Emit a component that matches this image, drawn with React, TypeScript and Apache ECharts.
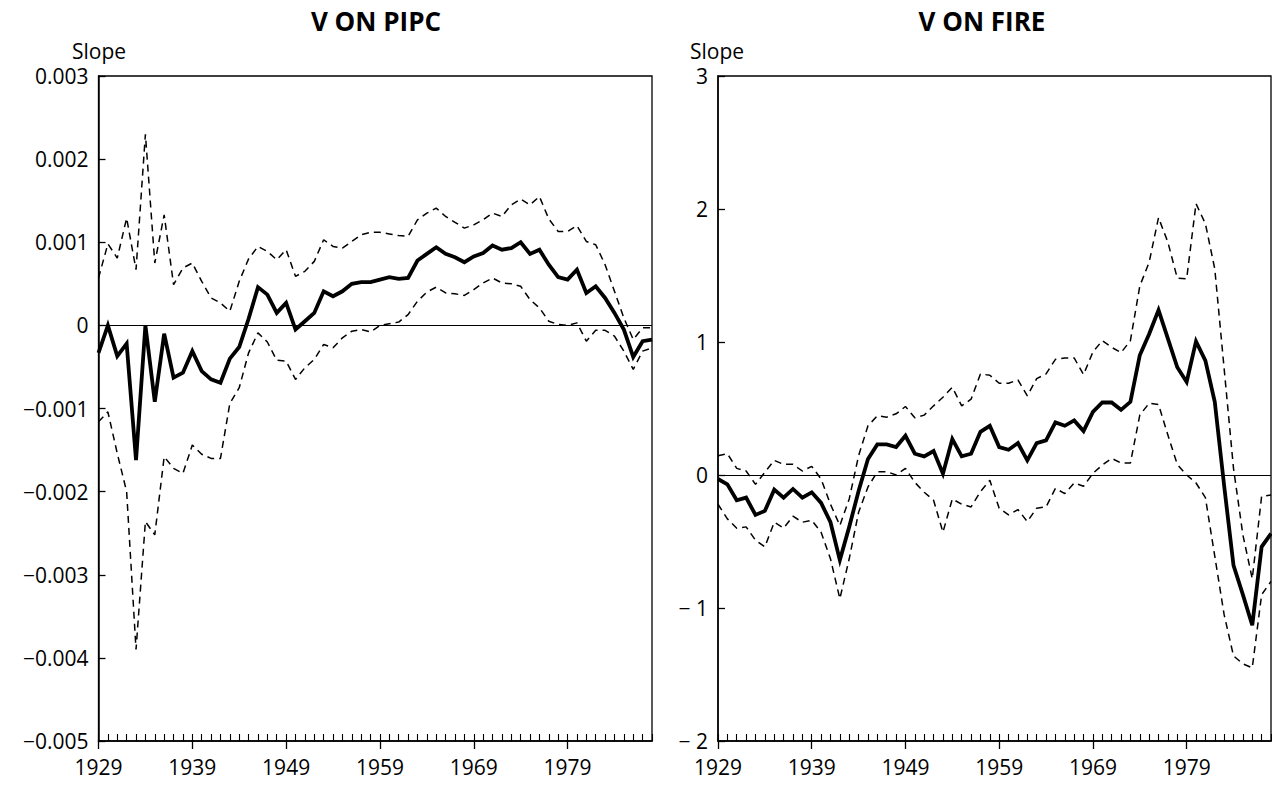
import React, { useEffect, useRef } from "react";
import * as echarts from "echarts";

const years: string[] = [];
for (let y = 1929; y <= 1988; y++) years.push(String(y));

const pipcSlope = [
  -0.00033, 0.0, -0.00037, -0.00022, -0.00162, 0.0, -0.00092, -0.0001, -0.00063, -0.00057,
  -0.00031, -0.00055, -0.00065, -0.00069, -0.0004, -0.00026, 0.00008, 0.00046, 0.00037, 0.00015,
  0.00027, -0.00005, 0.00005, 0.00015, 0.00041, 0.00035, 0.00041, 0.0005, 0.00052, 0.00052,
  0.00055, 0.00058, 0.00056, 0.00057, 0.00078, 0.00086, 0.00094, 0.00086, 0.00082, 0.00076,
  0.00083, 0.00087, 0.00096, 0.00091, 0.00093, 0.001, 0.00086, 0.00091, 0.00073, 0.00058,
  0.00055, 0.00067, 0.00039, 0.00047, 0.00033, 0.00015, -0.00005, -0.00038, -0.00019, -0.00017,
];
const pipcUpper = [
  0.00057, 0.00098, 0.00081, 0.00129, 0.00067, 0.0023, 0.00075, 0.00133, 0.00049, 0.00069,
  0.00075, 0.00053, 0.00033, 0.00027, 0.00017, 0.00053, 0.0008, 0.00095, 0.00089, 0.00079,
  0.00091, 0.00059, 0.00065, 0.00077, 0.00103, 0.00095, 0.00093, 0.00101, 0.00109, 0.00112,
  0.00112, 0.0011, 0.00108, 0.00107, 0.00127, 0.00135, 0.00141, 0.00131, 0.00124, 0.00117,
  0.00121, 0.00127, 0.00135, 0.00131, 0.00145, 0.00152, 0.00145, 0.00155, 0.00128, 0.00113,
  0.00113, 0.0012, 0.00101, 0.00097, 0.00073, 0.00041, 0.00009, -0.00017, -0.00003, -0.00003,
];
const pipcLower = [
  -0.00116, -0.00104, -0.00154, -0.002, -0.0039, -0.00236, -0.00252, -0.00158, -0.00172, -0.00178,
  -0.00144, -0.00155, -0.0016, -0.0016, -0.00094, -0.00075, -0.00033, -0.00009, -0.0002, -0.00042,
  -0.00043, -0.00065, -0.00051, -0.00041, -0.00023, -0.00027, -0.00015, -0.00007, -0.00005, -0.00008,
  0.0, 0.00002, 0.00004, 0.00013, 0.00029, 0.0004, 0.00046, 0.00039, 0.00038, 0.00036,
  0.00043, 0.00051, 0.00057, 0.00051, 0.0005, 0.00047, 0.00031, 0.00021, 0.00005, 0.00001,
  0.0, 0.00003, -0.00019, -0.00006, -0.00006, -0.00013, -0.00031, -0.00053, -0.00031, -0.00027,
];

const fireSlope = [
  -0.03, -0.07, -0.19, -0.17, -0.3, -0.27, -0.11, -0.17, -0.105, -0.17,
  -0.13, -0.21, -0.355, -0.64, -0.39, -0.12, 0.12, 0.23, 0.23, 0.21,
  0.295, 0.16, 0.14, 0.18, 0.01, 0.27, 0.14, 0.16, 0.325, 0.37,
  0.21, 0.19, 0.24, 0.11, 0.24, 0.26, 0.395, 0.37, 0.41, 0.33,
  0.475, 0.545, 0.545, 0.49, 0.55, 0.9, 1.06, 1.24, 1.025, 0.81,
  0.7, 1.005, 0.86, 0.55, -0.08, -0.68, -0.9, -1.13, -0.54, -0.44,
];
const fireUpper = [
  0.145, 0.16, 0.05, 0.03, -0.07, 0.02, 0.11, 0.08, 0.08, 0.03,
  0.065, -0.03, -0.22, -0.38, -0.18, 0.145, 0.37, 0.445, 0.435, 0.46,
  0.515, 0.43, 0.45, 0.52, 0.585, 0.66, 0.52, 0.57, 0.76, 0.75,
  0.69, 0.69, 0.715, 0.595, 0.725, 0.76, 0.87, 0.88, 0.88, 0.755,
  0.925, 1.01, 0.96, 0.92, 1.01, 1.42, 1.6, 1.935, 1.75, 1.48,
  1.475, 2.04, 1.89, 1.55, 0.8, 0.05, -0.45, -0.78, -0.16, -0.15,
];
const fireLower = [
  -0.22, -0.33, -0.4, -0.39, -0.49, -0.54, -0.355, -0.4, -0.31, -0.355,
  -0.34, -0.43, -0.63, -0.93, -0.63, -0.28, -0.09, 0.025, 0.025, 0.0,
  0.05, -0.055, -0.13, -0.19, -0.43, -0.18, -0.22, -0.24, -0.125, -0.04,
  -0.25, -0.3, -0.26, -0.35, -0.25, -0.24, -0.1, -0.14, -0.06, -0.085,
  0.013, 0.075, 0.125, 0.09, 0.09, 0.45, 0.54, 0.53, 0.3, 0.08,
  0.0, -0.06, -0.17, -0.61, -1.05, -1.36, -1.42, -1.45, -0.9, -0.8,
];

const panelTitles = ["V ON PIPC", "V ON FIRE"];
const yAxisName = "Slope";

const FONT = "'Open Sans', Lato, sans-serif";

export default function App() {
  const ref = useRef<HTMLDivElement>(null);

  useEffect(() => {
    if (!ref.current) return;
    const chart = echarts.init(ref.current, null, { renderer: "svg" });

    const grids = [
      { left: 98.5, top: 76, width: 553.5, height: 665 },
      { left: 718, top: 76, width: 553, height: 665 },
    ];

    const xAxes: any[] = [];
    grids.forEach((_, gi) => {
      xAxes.push({
        type: "category",
        gridIndex: gi,
        data: years,
        boundaryGap: false,
        position: "bottom",
        axisLine: { show: true, onZero: false, lineStyle: { color: "#000", width: 1.5 } },
        axisTick: {
          show: true,
          inside: false,
          length: 8,
          interval: (i: number) => i % 10 === 0,
          lineStyle: { color: "#000", width: 1.3 },
        },
        axisLabel: {
          show: true,
          interval: (i: number) => i % 10 === 0,
          color: "#000",
          fontSize: 21,
          fontFamily: FONT,
          margin: 15,
        },
        splitLine: { show: false },
      });
      xAxes.push({
        type: "category",
        gridIndex: gi,
        data: years,
        boundaryGap: false,
        position: "bottom",
        axisLine: { show: false, onZero: false },
        axisTick: {
          show: true,
          inside: true,
          length: 7,
          interval: 0,
          lineStyle: { color: "#000", width: 1.1 },
        },
        axisLabel: { show: false },
        splitLine: { show: false },
      });
    });

    const yCommon = {
      type: "value",
      axisLine: { show: true, onZero: false, lineStyle: { color: "#000", width: 1.5 } },
      axisTick: { show: true, inside: true, length: 7, lineStyle: { color: "#000", width: 1.3 } },
      splitLine: { show: false },
    };

    const yAxes: any[] = [
      {
        ...yCommon,
        gridIndex: 0,
        min: -0.005,
        max: 0.003,
        interval: 0.001,
        axisLabel: {
          color: "#000",
          fontSize: 21,
          fontFamily: FONT,
          margin: 10,
          formatter: (v: number) => {
            if (Math.abs(v) < 1e-9) return "0";
            return v < 0 ? "\u2212" + Math.abs(v).toFixed(3) : v.toFixed(3);
          },
        },
      },
      {
        ...yCommon,
        gridIndex: 1,
        min: -2,
        max: 3,
        interval: 1,
        axisLabel: {
          color: "#000",
          fontSize: 21,
          fontFamily: FONT,
          margin: 10,
          formatter: (v: number) => {
            if (Math.abs(v) < 1e-9) return "0";
            return v < 0 ? "\u2212 " + Math.abs(v) : String(v);
          },
        },
      },
    ];

    const mkSeries = (data: number[], gi: number, kind: "solid" | "band", zero: boolean) => {
      const s: any = {
        type: "line",
        xAxisIndex: gi * 2,
        yAxisIndex: gi,
        data,
        symbol: "none",
        silent: true,
        lineStyle:
          kind === "solid"
            ? { color: "#000", width: 3.8, type: "solid", join: "miter" }
            : { color: "#000", width: 1.5, type: [7, 5] },
        z: kind === "solid" ? 3 : 2,
      };
      if (zero) {
        s.markLine = {
          silent: true,
          symbol: "none",
          label: { show: false },
          lineStyle: { color: "#000", width: 1.2, type: "solid" },
          data: [{ yAxis: 0 }],
        };
      }
      return s;
    };

    const titleStyle = { fontSize: 26, fontWeight: "bold", fontFamily: FONT, color: "#000" };
    const nameStyle = { fontSize: 21, fontWeight: "normal", fontFamily: FONT, color: "#000" };

    const option: any = {
      animation: false,
      backgroundColor: "#fff",
      title: [
        { text: panelTitles[0], left: 376, top: 8, textAlign: "center", padding: 0, textStyle: titleStyle },
        { text: panelTitles[1], left: 982, top: 8, textAlign: "center", padding: 0, textStyle: titleStyle },
        { text: yAxisName, left: 72, top: 40, padding: 0, textStyle: nameStyle },
        { text: yAxisName, left: 690, top: 40, padding: 0, textStyle: nameStyle },
      ],
      grid: grids.map((g) => ({
        ...g,
        show: true,
        borderColor: "#000",
        borderWidth: 1.3,
        backgroundColor: "transparent",
        containLabel: false,
      })),
      xAxis: xAxes,
      yAxis: yAxes,
      series: [
        mkSeries(pipcUpper, 0, "band", false),
        mkSeries(pipcLower, 0, "band", false),
        mkSeries(pipcSlope, 0, "solid", true),
        mkSeries(fireUpper, 1, "band", false),
        mkSeries(fireLower, 1, "band", false),
        mkSeries(fireSlope, 1, "solid", true),
      ],
    };

    chart.setOption(option);
    return () => chart.dispose();
  }, []);

  return (
    <div
      ref={ref}
      style={{ position: "fixed", left: 0, top: 0, width: 1272, height: 785, background: "#fff" }}
    />
  );
}
